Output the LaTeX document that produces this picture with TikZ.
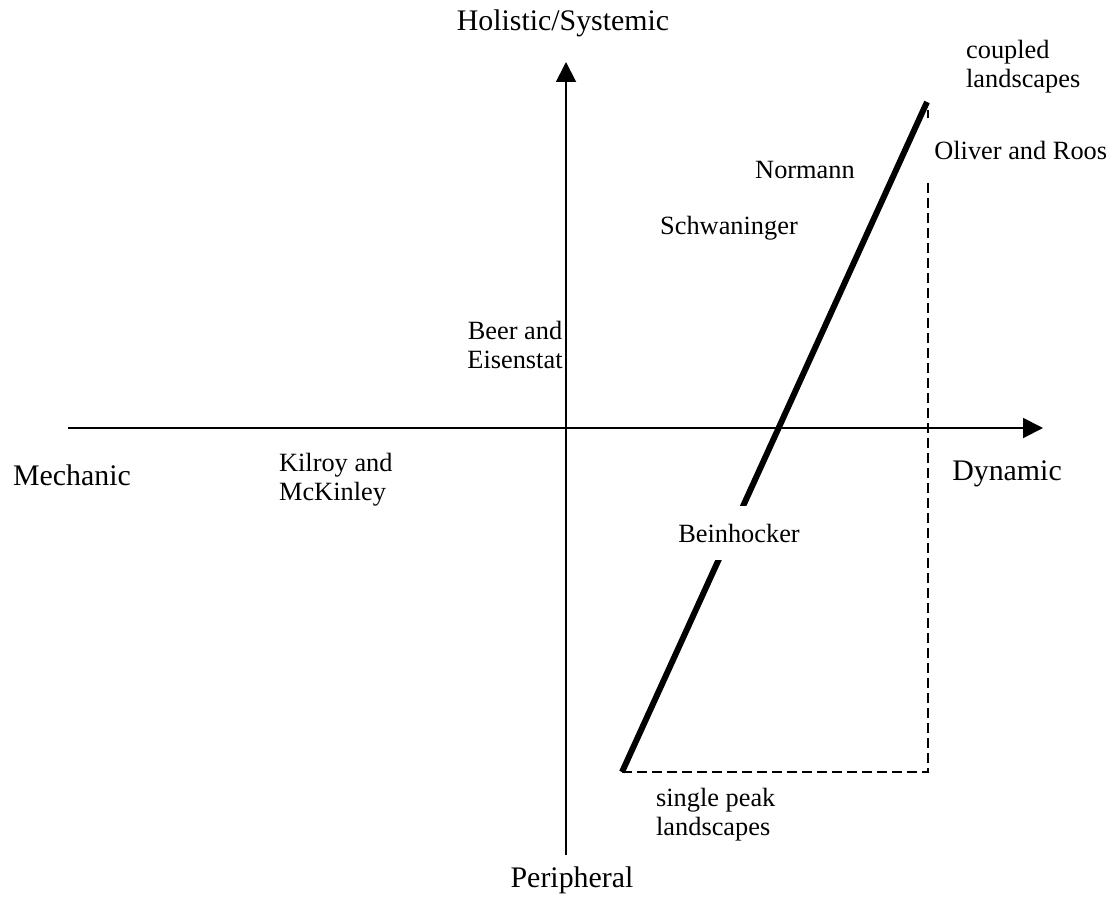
\documentclass[tikz,border=0pt]{standalone}
\usepackage{fontspec}
\setmainfont{Liberation Serif}
\usetikzlibrary{arrows.meta}
\newcommand{\smallfnt}{\fontsize{15}{16.5}\selectfont}
\newcommand{\bigfnt}{\fontsize{17}{20}\selectfont}
\tikzset{
	lbl/.style={font=\smallfnt, inner sep=1pt},
	axlbl/.style={font=\bigfnt, inner sep=1pt},
	axis/.style={line width=1.1pt, -{Triangle[length=0.4cm, width=0.4cm]}},
	trend/.style={line width=3.4pt},
	bound/.style={line width=1.1pt, dash pattern=on 0.2cm off 0.1cm}
}

\begin{document}
\begin{tikzpicture}[x=0.02cm, y=-0.02cm]
		%%%%% START %%%%%
		\useasboundingbox (0, 0) rectangle (1112, 896);
		
		\coordinate (west) at (68, 428);
		\coordinate (east) at (1043, 428);
		\coordinate (south) at (566, 855);
		\coordinate (north) at (566, 62);
		\coordinate (low) at (622, 772);
		\coordinate (high) at (927, 102);
		\coordinate (corner) at (928, 772);
		\coordinate (dashtop) at (928, 110);
		
		\draw[axis] (west) -- (east);
		\draw[axis] (south) -- (north);
		
		\draw[bound] (low) -- (corner) -- (dashtop);
		\draw[trend] (low) -- (high);
		
		\node[axlbl] (holistic) at (563, 23) {Holistic/Systemic};
		\node[axlbl] (mechanic) at (72, 475) {Mechanic};
		\node[axlbl] (dynamic) at (1007, 474) {Dynamic};
		\node[axlbl] (peripheral) at (572, 880) {Peripheral};
		
		\node[lbl, anchor=west, align=left] (coupled) at (964, 67) {coupled\\landscapes};
		\node[lbl, anchor=west, fill=white, inner xsep=0.16cm, inner ysep=0.4cm] (oliver) at (926, 150) {Oliver and Roos};
		\node[lbl] (normann) at (805, 170) {Normann};
		\node[lbl] (schwaninger) at (729, 228) {Schwaninger};
		\node[lbl, align=center] (beer) at (515, 345) {Beer and\\Eisenstat};
		\node[lbl, anchor=west, align=left] (kilroy) at (277, 480) {Kilroy and\\McKinley};
		\node[lbl, fill=white, inner ysep=0.36cm] (beinhocker) at (739, 533) {Beinhocker};
		\node[lbl, anchor=west, align=left] (single) at (654, 815) {single peak\\landscapes};
		
		%%%%% END %%%%%
	\end{tikzpicture}
\end{document}
